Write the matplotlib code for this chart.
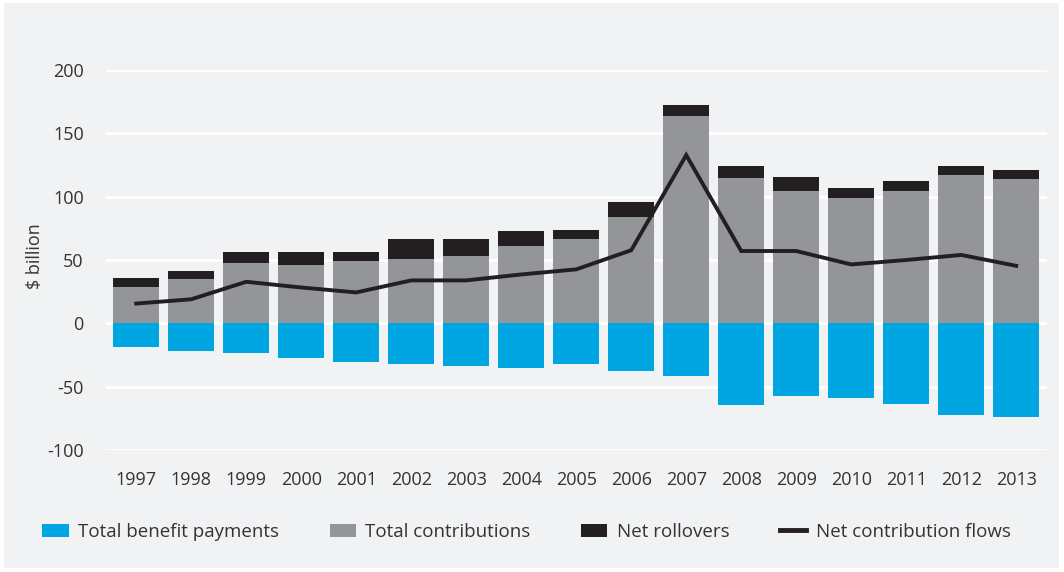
import numpy as np
import matplotlib.pyplot as plt
from matplotlib.patches import Patch, Rectangle
from matplotlib.lines import Line2D

years = ['1997', '1998', '1999', '2000', '2001', '2002', '2003', '2004', '2005',
         '2006', '2007', '2008', '2009', '2010', '2011', '2012', '2013']

# $ billion
contributions = [28.6, 34.9, 47.6, 46.0, 49.2, 50.8, 53.2, 61.1, 66.7,
                 83.6, 163.5, 115.0, 104.8, 99.0, 104.7, 117.3, 114.2]
rollovers = [7.1, 6.4, 8.7, 10.3, 7.1, 15.9, 13.5, 11.9, 7.1,
             12.4, 8.5, 9.6, 11.1, 7.9, 7.9, 7.1, 7.1]
benefits = [-18.8, -22.0, -23.6, -27.5, -30.7, -32.3, -33.9, -35.5, -32.3,
            -37.8, -41.2, -64.8, -57.7, -59.0, -63.5, -72.2, -73.8]
net_flows = [15.6, 19.0, 32.8, 28.3, 24.4, 33.9, 33.9, 38.6, 42.6,
             57.7, 132.8, 57.1, 57.1, 46.5, 50.0, 54.0, 45.4]
yticks = [-100, -50, 0, 50, 100, 150, 200]

BLUE = '#00a6e1'
GREY = '#939598'
BLACK = '#231f20'
BG = '#f1f2f4'
TXT = '#333333'

plt.rcParams['font.family'] = ['Open Sans', 'DejaVu Sans']

fig = plt.figure(figsize=(10.64, 5.72), dpi=100, facecolor='white')
# grey panel behind the chart
fig.patches.append(Rectangle((4 / 1064, 4 / 572), 1055 / 1064, 565 / 572,
                             transform=fig.transFigure, facecolor=BG,
                             edgecolor='none', zorder=-10))

ax = fig.add_axes([106 / 1064, 122 / 572, 941 / 1064, 380 / 572])
ax.set_facecolor(BG)

x = np.arange(len(years))
w = 0.84
ax.bar(x, benefits, w, color=BLUE, zorder=3)
ax.bar(x, contributions, w, color=GREY, zorder=3)
ax.bar(x, rollovers, w, bottom=contributions, color=BLACK, zorder=3)
ax.plot(x, net_flows, color=BLACK, lw=2.8, zorder=4, solid_joinstyle='miter')

ax.set_xlim(-0.55, len(years) - 0.44)
ax.set_ylim(-100, 200)
ax.set_yticks(yticks)
ax.set_yticklabels([str(v) for v in yticks])
ax.set_xticks(x)
ax.set_xticklabels(years)
ax.grid(axis='y', color='white', lw=2, zorder=1)
ax.set_axisbelow(True)
for s in ax.spines.values():
    s.set_visible(False)
ax.tick_params(axis='both', length=0, labelsize=13, colors=TXT)
ax.tick_params(axis='y', pad=16)
ax.tick_params(axis='x', pad=15)
ax.set_ylabel('$ billion', fontsize=13, color=TXT, labelpad=0)
ax.yaxis.set_label_coords(-0.066, 0.51)

handles = [Patch(facecolor=BLUE), Patch(facecolor=GREY), Patch(facecolor=BLACK),
           Line2D([0], [0], color=BLACK, lw=3.5)]
labels = ['Total benefit payments', 'Total contributions', 'Net rollovers',
          'Net contribution flows']
fig.legend(handles, labels, loc='center left', bbox_to_anchor=(0.024, 0.07),
           ncol=4, frameon=False, fontsize=13.5, labelcolor=TXT,
           handlelength=1.4, handleheight=0.7, handletextpad=0.5,
           columnspacing=2.7)

fig.savefig('out.png', dpi=100, facecolor='white')
